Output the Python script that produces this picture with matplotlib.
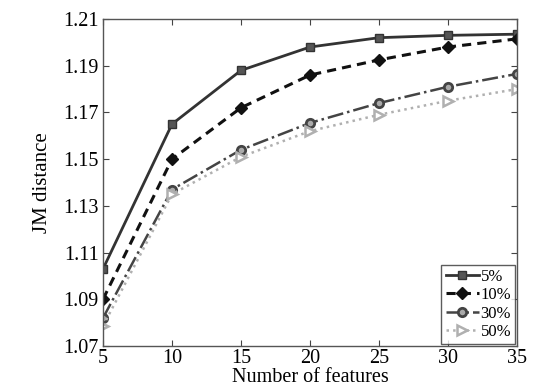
import matplotlib
matplotlib.use("Agg")
import matplotlib.pyplot as plt

plt.rcParams['font.family'] = ['Liberation Serif', 'DejaVu Serif']
plt.rcParams['mathtext.fontset'] = 'stix'

features = [5, 10, 15, 20, 25, 30, 35]
labels = ['5%', '10%', '30%', '50%']
s5 = [1.103, 1.165, 1.188, 1.198, 1.202, 1.203, 1.2035]
s10 = [1.090, 1.150, 1.172, 1.186, 1.1925, 1.198, 1.2015]
s30 = [1.082, 1.137, 1.154, 1.1655, 1.174, 1.181, 1.1865]
s50 = [1.0786, 1.135, 1.151, 1.162, 1.169, 1.175, 1.180]
yticks = [1.07, 1.09, 1.11, 1.13, 1.15, 1.17, 1.19, 1.21]
xticks = [5, 10, 15, 20, 25, 30, 35]

fig = plt.figure(figsize=(5.34, 3.90), dpi=100)
ax = fig.add_axes([103/534, 1-346/390, (517-103)/534, (346-19)/390])

ax.plot(features, s5, color='#333333', linestyle='-', linewidth=2.0,
        marker='s', markersize=6, markerfacecolor='#555555', markeredgecolor='#333333',
        label=labels[0])
ax.plot(features, s10, color='#111111', linestyle='--', linewidth=2.2, dashes=(3, 2),
        marker='D', markersize=6, markerfacecolor='#111111', markeredgecolor='#111111',
        label=labels[1])
ax.plot(features, s30, color='#444444', linestyle='-.', linewidth=1.8,
        marker='o', markersize=6, markerfacecolor='#aaaaaa', markeredgecolor='#444444',
        markeredgewidth=2, label=labels[2])
ax.plot(features, s50, color='#b0b0b0', linestyle=':', linewidth=1.8,
        marker='>', markersize=7, markerfacecolor='white', markeredgecolor='#b0b0b0',
        markeredgewidth=1.8, label=labels[3])

ax.set_xlim(5, 35)
ax.set_ylim(1.07, 1.21)
ax.set_xticks(xticks)
ax.set_yticks(yticks)
ax.set_yticklabels([f'{v:.2f}' for v in yticks])
ax.tick_params(direction='in', top=True, right=True, labelsize=14.5, length=4,
               color='#444444')
ax.tick_params(axis='x', pad=2)
ax.tick_params(axis='y', pad=3)
for sp in ax.spines.values():
    sp.set_color('#555555')
    sp.set_linewidth(1.0)

ax.set_xlabel('Number of features', fontsize=14.5, labelpad=0)
ax.set_ylabel('JM distance', fontsize=15, labelpad=8)

leg = ax.legend(loc='lower right', fontsize=12, frameon=True, fancybox=False,
                edgecolor='#333333', handlelength=2.0, handletextpad=0.1,
                borderpad=0.25, labelspacing=0.15, borderaxespad=0.1)
leg.get_frame().set_linewidth(1.0)

fig.savefig('out.png', dpi=100)
